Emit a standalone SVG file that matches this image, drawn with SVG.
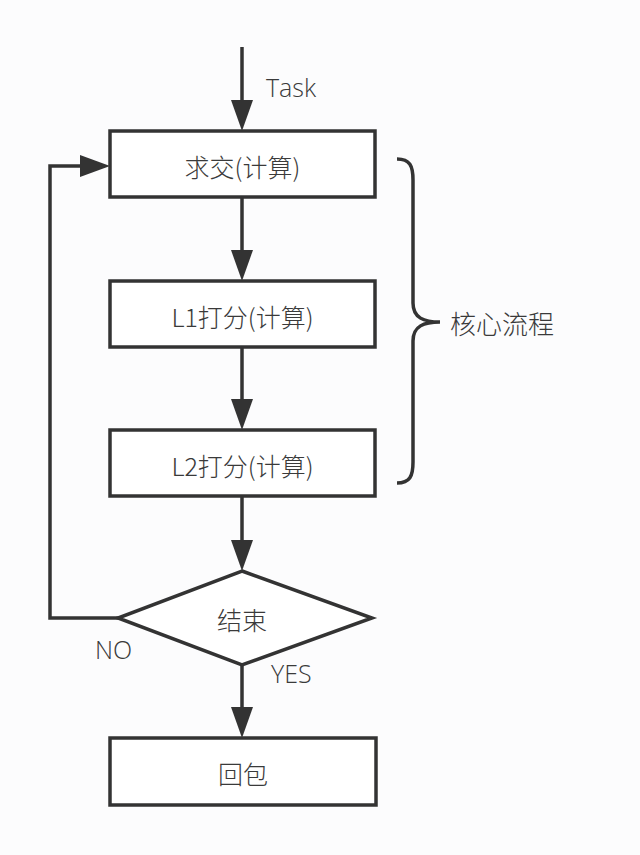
<svg xmlns="http://www.w3.org/2000/svg" width="640" height="855" viewBox="0 0 640 855">
<defs>
<style>
.box{fill:#fff;stroke:#333;stroke-width:3.5}
.ln{fill:none;stroke:#333;stroke-width:3.5}
.hd{fill:#333}
.t{font-family:"Noto Sans CJK SC","Open Sans",sans-serif;font-size:25px;font-weight:300;fill:#3a3a3a;text-anchor:middle}
.l{font-family:"Open Sans","Noto Sans CJK SC",sans-serif;font-size:25px;font-weight:300;fill:#3a3a3a}
</style>
</defs>
<rect width="640" height="855" fill="#fcfcfd"/>
<g id="connectors">
<line class="ln" x1="242" y1="47" x2="242" y2="104"/>
<polygon class="hd" points="231,100 253,100 242,131"/>
<line class="ln" x1="242" y1="197" x2="242" y2="254"/>
<polygon class="hd" points="231,250 253,250 242,281"/>
<line class="ln" x1="242" y1="347" x2="242" y2="403"/>
<polygon class="hd" points="231,399 253,399 242,430"/>
<line class="ln" x1="242" y1="496" x2="242" y2="544"/>
<polygon class="hd" points="231,540 253,540 242,571"/>
<line class="ln" x1="242" y1="665" x2="242" y2="711"/>
<polygon class="hd" points="231,707 253,707 242,738"/>
<polyline class="ln" points="118,618 50,618 50,166 84,166"/>
<polygon class="hd" points="80,155 80,177 110,166"/>
<path class="ln" d="M397,159 C410,159 413,166 413,180 L413,303 C413,318 424,322 440,322 C424,322 413,326 413,341 L413,462 C413,476 410,483 397,483"/>
</g>
<text class="l" x="266" y="97">Task</text>
<text class="l" x="95" y="659">NO</text>
<text class="l" x="271" y="683">YES</text>
<text class="t" x="502" y="334" style="font-size:26px">核心流程</text>
<g id="n1"><rect class="box" x="110" y="131" width="265" height="66"/><text class="t" x="242.5" y="177">求交(计算)</text></g>
<g id="n2"><rect class="box" x="110" y="281" width="265" height="66"/><text class="t" x="242.5" y="327">L1打分(计算)</text></g>
<g id="n3"><rect class="box" x="110" y="430" width="265" height="66"/><text class="t" x="242.5" y="476">L2打分(计算)</text></g>
<g id="n4"><polygon class="box" points="242,571 372,618 242,665 118,618"/><text class="t" x="242" y="630">结束</text></g>
<g id="n5"><rect class="box" x="110" y="738" width="266" height="67"/><text class="t" x="243" y="784">回包</text></g>
</svg>
